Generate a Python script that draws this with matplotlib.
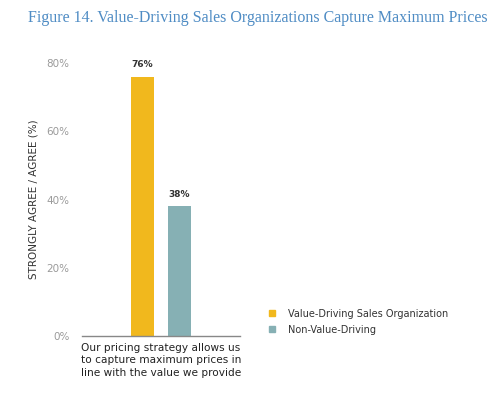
import numpy as np
import matplotlib.pyplot as plt
from matplotlib.patches import Patch

series = ['Value-Driving Sales Organization', 'Non-Value-Driving']
values = [76, 38]
colors = ['#F1B81D', '#86B0B4']
category = 'Our pricing strategy allows us\nto capture maximum prices in\nline with the value we provide'
yticks = [0, 20, 40, 60, 80]

fig = plt.figure(figsize=(5, 4), dpi=100)
ax = fig.add_axes([0.164, 0.16, 0.316, 0.6825])

x = np.arange(len(values))
bars = ax.bar(x, values, width=0.63, color=colors)
for b, v in zip(bars, values):
    ax.text(b.get_x() + b.get_width() / 2, v + 2.2, '%d%%' % v,
            ha='center', va='bottom', fontsize=6.5, fontweight='bold', color='#333333')

ax.set_xlim(-1.66, 2.67)
ax.set_ylim(0, 80)
ax.set_yticks(yticks)
ax.set_yticklabels(['%d%%' % t for t in yticks], fontsize=7.5, color='#9a9a9a')
ax.tick_params(axis='y', length=0, pad=9)
ax.set_xticks([0.5])
ax.set_xticklabels([category], fontsize=7.6, color='#222222', linespacing=1.3)
ax.tick_params(axis='x', length=0, pad=5)
for s in ['top', 'right', 'left']:
    ax.spines[s].set_visible(False)
ax.spines['bottom'].set_color('#888888')
ax.spines['bottom'].set_linewidth(1)
ax.set_ylabel('STRONGLY AGREE / AGREE (%)', fontsize=7.5, color='#333333', labelpad=6)

handles = [Patch(color=c, label=s) for c, s in zip(colors, series)]
fig.legend(handles=handles, loc='upper left', bbox_to_anchor=(0.52, 0.25),
           frameon=False, fontsize=7, handlelength=0.6, handleheight=0.6,
           handletextpad=1.4, labelspacing=0.6, labelcolor='#333333')

fig.text(0.056, 0.955, 'Figure 14. Value-Driving Sales Organizations Capture Maximum Prices',
         fontsize=11.5, family='Liberation Serif', color='#4f8cc4', va='center')

fig.savefig('out.png', dpi=100, facecolor='white')
